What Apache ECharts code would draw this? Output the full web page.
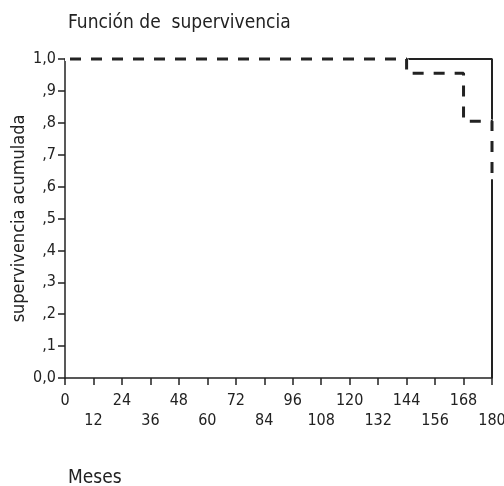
<!DOCTYPE html>
<html><head><meta charset="utf-8">
<script src="https://cdn.jsdelivr.net/npm/echarts@6/dist/echarts.min.js"></script>
<style>html,body{margin:0;padding:0;background:#fff}#c{width:504px;height:486px}</style>
</head><body><div id="c"></div>
<script>
// Data
const xTicks = [0,12,24,36,48,60,72,84,96,108,120,132,144,156,168,180];
const yTicks = ['0,0',',1',',2',',3',',4',',5',',6',',7',',8',',9','1,0'];
// Solid curve (step end): time, survival
const solidTimes = [0, 180];
const solidSurv  = [1.0, 0.0];
// Dashed curve (step end)
const dashedTimes = [0, 144, 168, 180];
const dashedSurv  = [1.0, 0.955, 0.805, 0.623];

const FONT = "'DejaVu Sans Condensed','Liberation Sans Narrow',sans-serif";
const solidData = solidTimes.map((t,i)=>[t, solidSurv[i]]);
const dashedData = dashedTimes.map((t,i)=>[t, dashedSurv[i]]);

const chart = echarts.init(document.getElementById('c'));
chart.setOption({
  animation:false,
  backgroundColor:'#fff',
  title:[
    {text:'Función de  supervivencia', left:63, top:9, textStyle:{fontFamily:FONT, fontSize:19, fontWeight:'normal', color:'#222'}},
    {text:'Meses', left:63, top:464, textStyle:{fontFamily:FONT, fontSize:19, fontWeight:'normal', color:'#222'}}
  ],
  grid:{left:65, right:12, top:59, bottom:108, containLabel:false, outerBoundsMode:'none'},
  xAxis:{
    type:'value', min:0, max:180, interval:12,
    axisLine:{show:true, lineStyle:{color:'#222', width:1.5}},
    axisTick:{show:true, length:7, lineStyle:{color:'#222', width:1.5}},
    splitLine:{show:false},
    axisLabel:{
      fontFamily:FONT, fontSize:16, color:'#222', margin:13, lineHeight:20,
      showMinLabel:true, showMaxLabel:true, hideOverlap:false,
      formatter:(v)=>{ const i = xTicks.indexOf(v); return (i%2===0) ? String(v) : '\n'+v; }
    }
  },
  yAxis:{
    type:'value', min:0, max:1, interval:0.1,
    name:'supervivencia acumulada', nameLocation:'middle', nameGap:37, nameMoveOverlap:false,
    nameTextStyle:{fontFamily:FONT, fontSize:18, color:'#222'},
    axisLine:{show:true, lineStyle:{color:'#222', width:1.5}},
    axisTick:{show:true, length:7, lineStyle:{color:'#222', width:1.5}},
    splitLine:{show:false},
    axisLabel:{
      fontFamily:FONT, fontSize:16, color:'#222', margin:9,
      showMinLabel:true, showMaxLabel:true,
      formatter:(v)=> yTicks[Math.round(v*10)]
    }
  },
  series:[
    {type:'line', step:'end', data:solidData, showSymbol:false, z:2, clip:false,
     lineStyle:{color:'#222', width:2}},
    {type:'line', step:'end', data:dashedData, showSymbol:false, z:3, clip:false,
     lineStyle:{color:'#fff', width:4}},
    {type:'line', step:'end', data:dashedData, showSymbol:false, z:4, clip:false,
     lineStyle:{color:'#222', width:3, type:[11,10], dashOffset:-5}}
  ]
});
</script></body></html>
